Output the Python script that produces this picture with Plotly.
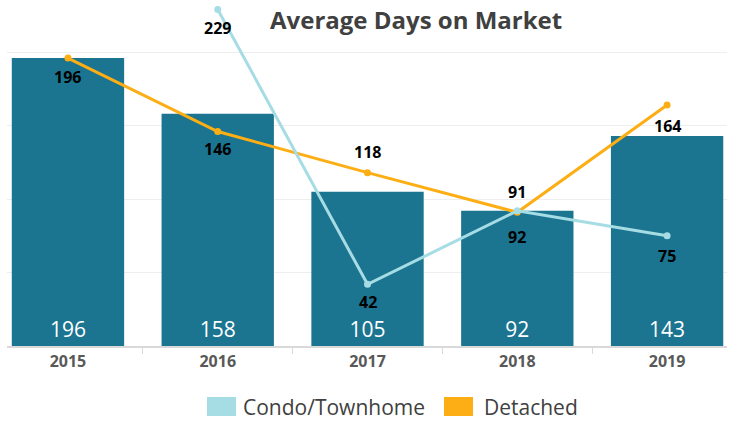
import plotly.graph_objects as go

years = ["2015", "2016", "2017", "2018", "2019"]
total_days = [196, 158, 105, 92, 143]
condo_years = ["2016", "2017", "2018", "2019"]
condo_days = [229, 42, 92, 75]
detached_days = [196, 146, 118, 91, 164]

# label offsets (pixels, positive = below point)
detached_label_shift = [19, 18, -21, -20, 21]
condo_label_shift = [18, 18, 26, 20]

BAR = "#1B7490"
CONDO = "#A6DCE4"
DET = "#FDAE14"
FONT = "Open Sans"

fig = go.Figure()
fig.add_trace(go.Bar(
    x=years, y=total_days, width=0.75, marker_color=BAR, marker_line_width=0,
    text=[str(v) for v in total_days], textposition="inside", insidetextanchor="start",
    textfont=dict(family=FONT, size=21, color="white"), showlegend=False,
    textangle=0,
))
fig.add_trace(go.Scatter(
    x=years, y=detached_days, mode="lines+markers", line=dict(color=DET, width=3),
    marker=dict(size=7, color=DET), showlegend=False, cliponaxis=False,
))
fig.add_trace(go.Scatter(
    x=condo_years, y=condo_days, mode="lines+markers", line=dict(color=CONDO, width=3),
    marker=dict(size=7, color=CONDO), showlegend=False, cliponaxis=False,
))

for xs, ys, shifts in [(years, detached_days, detached_label_shift),
                       (condo_years, condo_days, condo_label_shift)]:
    for xv, yv, s in zip(xs, ys, shifts):
        fig.add_annotation(x=years.index(xv), y=yv, xref="x", yref="y", text=str(yv), showarrow=False,
                           yshift=-s, xanchor="center", yanchor="middle",
                           font=dict(family=FONT, size=16, color="black", weight="bold"))

def px_x(p):
    return (p - 7) / 720

def px_y(p):
    return (346 - p) / 346

fig.update_layout(
    width=730, height=421, margin=dict(l=7, r=3, t=0, b=75),
    plot_bgcolor="white", paper_bgcolor="white", showlegend=False,
    font=dict(family=FONT),
    xaxis=dict(type="category", range=[-0.407, 4.40], showline=True, linecolor="#D9D9D9", linewidth=2,
               ticks="outside", tickson="boundaries", ticklen=6, tickcolor="#D9D9D9",
               tickfont=dict(family=FONT, size=16, color="#595959", weight="bold"), showgrid=False),
    yaxis=dict(range=[0, 235.5], dtick=50, showgrid=True, gridcolor="#EEEEEE", gridwidth=1,
               showticklabels=False, zeroline=False, ticks=""),
)
fig.add_annotation(text="Average Days on Market", x=px_x(416), xref="paper", y=px_y(20), yref="paper",
                   xanchor="center", yanchor="middle", showarrow=False,
                   font=dict(family=FONT, size=24, color="#404040", weight="bold"))

for x0, x1, col, label, tx in [(207, 236, CONDO, "Condo/Townhome", 241), (444, 473, DET, "Detached", 482)]:
    fig.add_shape(type="rect", xref="paper", yref="paper", x0=px_x(x0), x1=px_x(x1),
                  y0=px_y(416), y1=px_y(397), fillcolor=col, line_width=0)
    fig.add_annotation(text=label, xref="paper", yref="paper", x=px_x(tx), y=px_y(407),
                       xanchor="left", yanchor="middle", showarrow=False,
                       font=dict(family=FONT, size=21, color="#404040"))

fig.write_html("out.html", config={"displayModeBar": False},
               post_script="document.body.style.margin='0';document.body.style.overflow='hidden';")
